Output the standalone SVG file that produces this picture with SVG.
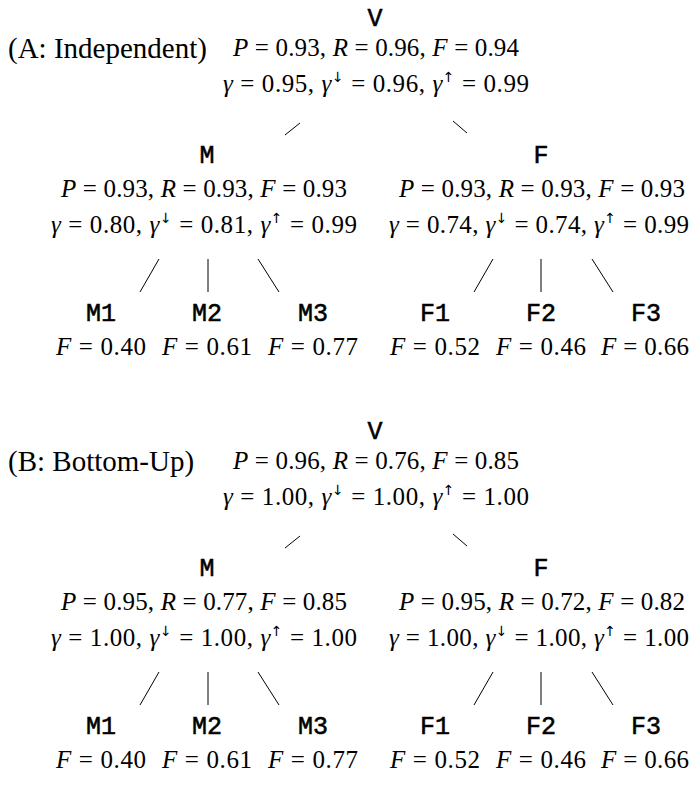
<svg xmlns="http://www.w3.org/2000/svg" width="691" height="785" viewBox="0 0 691 785">
<style>
.tt{font-family:"Liberation Mono","DejaVu Sans Mono",monospace;font-size:25px;text-anchor:middle;fill:#000;stroke:#000;stroke-width:0.55}
.m{font-family:"Liberation Serif","Times New Roman",serif;font-size:25px;text-anchor:middle;fill:#000}
.i{font-style:italic}
.s{font-family:"DejaVu Sans",sans-serif;font-size:14px;font-style:normal}
.lab{font-family:"Liberation Serif","Times New Roman",serif;font-size:29px;fill:#000}
.e line{stroke:#000;stroke-width:1;fill:none}
</style>
<rect width="691" height="785" fill="#fff"/>

<g id="treeA">
  <text id="labelA" class="lab" x="8" y="58">(A: Independent)</text>
  <g id="A-V">
    <text class="tt" x="375" y="26">V</text>
    <text class="m" x="376" y="56" textLength="286"><tspan class="i">P</tspan> = 0.93, <tspan class="i">R</tspan> = 0.96, <tspan class="i">F</tspan> = 0.94</text>
    <text class="m" x="376" y="92" textLength="306"><tspan class="i">γ</tspan> = 0.95, <tspan class="i">γ</tspan><tspan class="s" dy="-10">↓</tspan><tspan dy="10"> = 0.96, </tspan><tspan class="i">γ</tspan><tspan class="s" dy="-10">↑</tspan><tspan dy="10"> = 0.99</tspan></text>
  </g>
  <g id="A-M">
    <text class="tt" x="207" y="163">M</text>
    <text class="m" x="204" y="197" textLength="286"><tspan class="i">P</tspan> = 0.93, <tspan class="i">R</tspan> = 0.93, <tspan class="i">F</tspan> = 0.93</text>
    <text class="m" x="204" y="233" textLength="306"><tspan class="i">γ</tspan> = 0.80, <tspan class="i">γ</tspan><tspan class="s" dy="-10">↓</tspan><tspan dy="10"> = 0.81, </tspan><tspan class="i">γ</tspan><tspan class="s" dy="-10">↑</tspan><tspan dy="10"> = 0.99</tspan></text>
  </g>
  <g id="A-F">
    <text class="tt" x="541" y="163">F</text>
    <text class="m" x="542" y="197" textLength="286"><tspan class="i">P</tspan> = 0.93, <tspan class="i">R</tspan> = 0.93, <tspan class="i">F</tspan> = 0.93</text>
    <text class="m" x="539" y="233" textLength="300"><tspan class="i">γ</tspan> = 0.74, <tspan class="i">γ</tspan><tspan class="s" dy="-10">↓</tspan><tspan dy="10"> = 0.74, </tspan><tspan class="i">γ</tspan><tspan class="s" dy="-10">↑</tspan><tspan dy="10"> = 0.99</tspan></text>
  </g>
  <g id="A-M1"><text class="tt" x="101" y="321">M1</text><text class="m" x="101" y="355" textLength="90"><tspan class="i">F</tspan> = 0.40</text></g>
  <g id="A-M2"><text class="tt" x="207" y="321">M2</text><text class="m" x="207" y="355" textLength="90"><tspan class="i">F</tspan> = 0.61</text></g>
  <g id="A-M3"><text class="tt" x="313" y="321">M3</text><text class="m" x="313" y="355" textLength="90"><tspan class="i">F</tspan> = 0.77</text></g>
  <g id="A-F1"><text class="tt" x="435" y="321">F1</text><text class="m" x="435" y="355" textLength="90"><tspan class="i">F</tspan> = 0.52</text></g>
  <g id="A-F2"><text class="tt" x="541" y="321">F2</text><text class="m" x="541" y="355" textLength="90"><tspan class="i">F</tspan> = 0.46</text></g>
  <g id="A-F3"><text class="tt" x="646" y="321">F3</text><text class="m" x="645" y="355" textLength="88"><tspan class="i">F</tspan> = 0.66</text></g>
  <g id="A-edges" class="e">
    <line x1="300" y1="123" x2="285" y2="135"/>
    <line x1="453" y1="121" x2="467" y2="133"/>
    <line x1="159" y1="259" x2="140" y2="292"/>
    <line x1="208" y1="259" x2="208" y2="292"/>
    <line x1="258" y1="259" x2="279" y2="292"/>
    <line x1="493" y1="259" x2="474" y2="292"/>
    <line x1="541" y1="259" x2="541" y2="292"/>
    <line x1="592" y1="259" x2="613" y2="292"/>
  </g>
</g>

<g id="treeB" transform="translate(0,413)">
  <text id="labelB" class="lab" x="8" y="58">(B: Bottom-Up)</text>
  <g id="B-V">
    <text class="tt" x="375" y="26">V</text>
    <text class="m" x="376" y="56" textLength="286"><tspan class="i">P</tspan> = 0.96, <tspan class="i">R</tspan> = 0.76, <tspan class="i">F</tspan> = 0.85</text>
    <text class="m" x="376" y="92" textLength="306"><tspan class="i">γ</tspan> = 1.00, <tspan class="i">γ</tspan><tspan class="s" dy="-10">↓</tspan><tspan dy="10"> = 1.00, </tspan><tspan class="i">γ</tspan><tspan class="s" dy="-10">↑</tspan><tspan dy="10"> = 1.00</tspan></text>
  </g>
  <g id="B-M">
    <text class="tt" x="207" y="163">M</text>
    <text class="m" x="204" y="197" textLength="286"><tspan class="i">P</tspan> = 0.95, <tspan class="i">R</tspan> = 0.77, <tspan class="i">F</tspan> = 0.85</text>
    <text class="m" x="204" y="233" textLength="306"><tspan class="i">γ</tspan> = 1.00, <tspan class="i">γ</tspan><tspan class="s" dy="-10">↓</tspan><tspan dy="10"> = 1.00, </tspan><tspan class="i">γ</tspan><tspan class="s" dy="-10">↑</tspan><tspan dy="10"> = 1.00</tspan></text>
  </g>
  <g id="B-F">
    <text class="tt" x="541" y="163">F</text>
    <text class="m" x="542" y="197" textLength="286"><tspan class="i">P</tspan> = 0.95, <tspan class="i">R</tspan> = 0.72, <tspan class="i">F</tspan> = 0.82</text>
    <text class="m" x="539" y="233" textLength="300"><tspan class="i">γ</tspan> = 1.00, <tspan class="i">γ</tspan><tspan class="s" dy="-10">↓</tspan><tspan dy="10"> = 1.00, </tspan><tspan class="i">γ</tspan><tspan class="s" dy="-10">↑</tspan><tspan dy="10"> = 1.00</tspan></text>
  </g>
  <g id="B-M1"><text class="tt" x="101" y="321">M1</text><text class="m" x="101" y="355" textLength="90"><tspan class="i">F</tspan> = 0.40</text></g>
  <g id="B-M2"><text class="tt" x="207" y="321">M2</text><text class="m" x="207" y="355" textLength="90"><tspan class="i">F</tspan> = 0.61</text></g>
  <g id="B-M3"><text class="tt" x="313" y="321">M3</text><text class="m" x="313" y="355" textLength="90"><tspan class="i">F</tspan> = 0.77</text></g>
  <g id="B-F1"><text class="tt" x="435" y="321">F1</text><text class="m" x="435" y="355" textLength="90"><tspan class="i">F</tspan> = 0.52</text></g>
  <g id="B-F2"><text class="tt" x="541" y="321">F2</text><text class="m" x="541" y="355" textLength="90"><tspan class="i">F</tspan> = 0.46</text></g>
  <g id="B-F3"><text class="tt" x="646" y="321">F3</text><text class="m" x="645" y="355" textLength="88"><tspan class="i">F</tspan> = 0.66</text></g>
  <g id="B-edges" class="e">
    <line x1="300" y1="123" x2="285" y2="135"/>
    <line x1="453" y1="121" x2="467" y2="133"/>
    <line x1="159" y1="259" x2="140" y2="292"/>
    <line x1="208" y1="259" x2="208" y2="292"/>
    <line x1="258" y1="259" x2="279" y2="292"/>
    <line x1="493" y1="259" x2="474" y2="292"/>
    <line x1="541" y1="259" x2="541" y2="292"/>
    <line x1="592" y1="259" x2="613" y2="292"/>
  </g>
</g>
</svg>
